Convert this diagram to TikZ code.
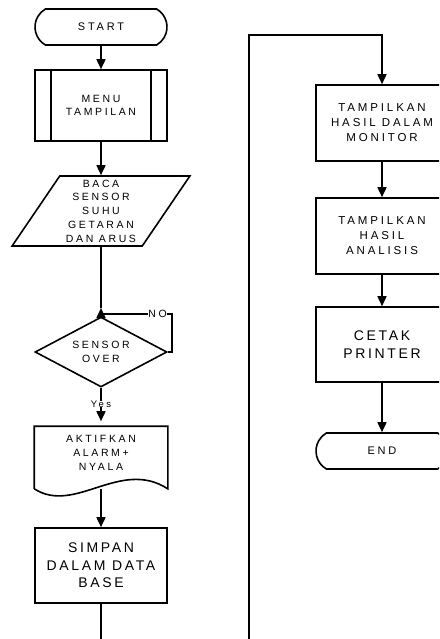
\documentclass[tikz,border=0pt]{standalone}
\usepackage{fontspec}
\setmainfont{Liberation Sans}
\newfontfamily\widefont[LetterSpace=25]{Liberation Sans}
\newfontfamily\bigwidefont[LetterSpace=19]{Liberation Sans}
\usetikzlibrary{arrows.meta,shapes.misc,shapes.geometric}

\begin{document}
\begin{tikzpicture}[
    x = 1pt,
    y = -1pt,
    line width = 1.6pt,
    >={Triangle[width=9pt,length=10pt]},
    txt/.style = {
      font = \widefont\fontsize{10.5}{13.7}\selectfont,
      align = center,
      inner sep = 0pt
    },
    midtxt/.style = {
      txt,
      font = \widefont\fontsize{11.5}{15}\selectfont
    },
    bigtxt/.style = {
      txt,
      font = \bigwidefont\fontsize{14}{17.5}\selectfont
    },
    term/.style = {
      draw,
      rounded rectangle,
      rounded rectangle arc length = 120,
      minimum width = 132pt,
      minimum height = 36pt,
      txt,
      font = \widefont\fontsize{11}{13}\selectfont
    },
    proc/.style = {
      draw,
      rectangle,
      minimum width = 132pt,
      minimum height = 76pt
    }
  ]
  \useasboundingbox (0,0) rectangle (439,639);
  \clip (0,0) rectangle (439,639);

  \scope[]
    \node[term] (start) at (101,27) {START};
    \node[proc, minimum height=71pt, txt] (menu) at (101,105.5) {MENU\\TAMPILAN};
    \draw ([xshift=17pt]menu.north west) -- ([xshift=17pt]menu.south west);
    \draw ([xshift=-17pt]menu.north east) -- ([xshift=-17pt]menu.south east);

    \node[draw, trapezium, trapezium stretches=true,
      trapezium left angle=57, trapezium right angle=123,
      minimum width=178pt, minimum height=70pt, txt] (baca) at (101,211)
      {BACA\\SENSOR\\SUHU\\GETARAN\\DAN ARUS};

    \node[draw, diamond, aspect=2, minimum width=132pt, minimum height=70pt, txt]
      (over) at (101,352) {SENSOR\\OVER};
    \coordinate (tip) at (101,308);
    \coordinate (nojoin) at (101,314);

    \node[minimum width=132pt, minimum height=61pt, inner sep=0pt] (akt) at (101,457.5) {};
    \draw (akt.south west) -- (akt.north west) -- (akt.north east) -- (akt.south east)
      .. controls (120,458) and (75,515) .. (akt.south west);
    \node[txt] (akttxt) at (101,453) {AKTIFKAN\\ALARM+\\NYALA};

    \node[proc, minimum height=75pt, bigtxt] (simpan) at (101,565.5) {SIMPAN\\DALAM DATA\\BASE};
    \coordinate (offL) at (101,639);

    \draw[->] (start) -- (menu);
    \draw[->] (menu) -- (baca);
    \draw (baca.south) -- (tip);
    \draw[->] (over.north) -- (tip);
    \draw (over.east) -- ++(4,0) |- (nojoin)
      node[pos=0.6, fill=white, inner xsep=2pt, txt] {NO};
    \draw[->, shorten >=5pt] (over.south) -- (akt.north)
      node[pos=0.42, fill=white, inner ysep=1pt, txt, font=\widefont\fontsize{9.5}{11}\selectfont] {Yes};
    \draw[->] (akt.south) -- (simpan.north);
    \draw (simpan.south) -- (offL);
  \endscope

  \scope[]
    \coordinate (offR) at (249,639);
    \coordinate (top) at (382,35);
    \node[proc, midtxt] (tam1) at (382,123) {TAMPILKAN\\HASIL DALAM\\MONITOR};
    \node[proc, midtxt] (tam2) at (382,236) {TAMPILKAN\\HASIL\\ANALISIS};
    \node[proc, minimum height=75pt, bigtxt] (cetak) at (382,344.5) {CETAK\\PRINTER};
    \node[term] (end) at (382,451) {END};

    \draw[->] (offR) |- (top) -- (tam1.north);
    \draw[->] (tam1) -- (tam2);
    \draw[->] (tam2) -- (cetak);
    \draw[->] (cetak) -- (end);
  \endscope
\end{tikzpicture}
\end{document}
